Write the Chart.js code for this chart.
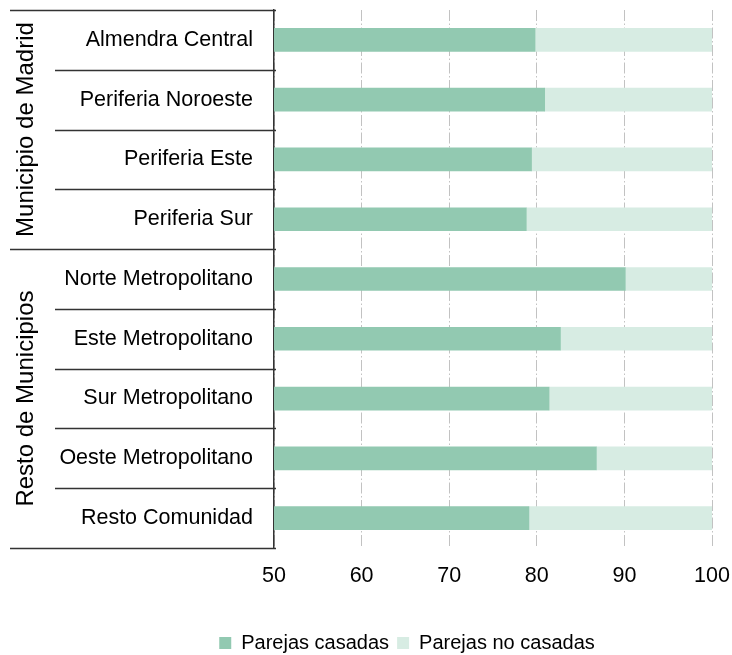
<!DOCTYPE html>
<html>
<head>
<meta charset="utf-8">
<script src="https://cdn.jsdelivr.net/npm/chart.js@4/dist/chart.umd.min.js"></script>
<style>
  html, body { margin: 0; padding: 0; background: #ffffff; }
  #wrap { position: relative; width: 732px; height: 655px; }
</style>
</head>
<body>
<div id="wrap"><canvas id="c" width="732" height="655"></canvas></div>
<script>
// ---- Data ----
const categories = [
  'Almendra Central', 'Periferia Noroeste', 'Periferia Este', 'Periferia Sur',
  'Norte Metropolitano', 'Este Metropolitano', 'Sur Metropolitano',
  'Oeste Metropolitano', 'Resto Comunidad'
];
const groupLabels = ['Municipio de Madrid', 'Resto de Municipios'];
const groupSizes = [4, 5];
const parejasCasadas   = [79.8, 80.9, 79.4, 78.8, 90.1, 82.7, 81.4, 86.8, 79.1];
const parejasNoCasadas = [20.2, 19.1, 20.6, 21.2,  9.9, 17.3, 18.6, 13.2, 20.9];
const seriesNames = ['Parejas casadas', 'Parejas no casadas'];
const xTicks = [50, 60, 70, 80, 90, 100];

const FONT = "'Liberation Sans', Arial, sans-serif";
const LINE = '#333333';

// Plugin drawing the two-level category table on the left
const groupTable = {
  id: 'groupTable',
  afterLayout(chart) {
    // shift the legend to sit under the chart like in the reference
    if (chart.legend) { chart.legend.left += 51; chart.legend.right += 51; }
  },
  afterDraw(chart) {
    const { ctx, chartArea } = chart;
    const n = categories.length;
    const top = chartArea.top, bottom = chartArea.bottom;
    const step = (bottom - top) / n;
    const axisX = chartArea.left;
    const outerX = 10, innerX = 55;
    ctx.save();
    ctx.strokeStyle = LINE;
    ctx.lineWidth = 1.5;
    const groupEnds = new Set();
    let acc = 0;
    groupSizes.forEach(s => { acc += s; groupEnds.add(acc); });
    for (let i = 0; i <= n; i++) {
      const y = Math.round(top + i * step) + 0.5;
      const startX = (i === 0 || groupEnds.has(i)) ? outerX : innerX;
      ctx.beginPath();
      ctx.moveTo(startX, y);
      ctx.lineTo(axisX + 2, y);
      ctx.stroke();
    }
    ctx.fillStyle = '#000000';
    ctx.font = '24px ' + FONT;
    ctx.textAlign = 'center';
    ctx.textBaseline = 'alphabetic';
    let start = 0;
    groupLabels.forEach((lab, gi) => {
      const yc = top + (start + groupSizes[gi] / 2) * step;
      ctx.save();
      ctx.translate(33, yc);
      ctx.rotate(-Math.PI / 2);
      ctx.fillText(lab, 0, 0);
      ctx.restore();
      start += groupSizes[gi];
    });
    ctx.restore();
  }
};

new Chart(document.getElementById('c'), {
  type: 'bar',
  data: {
    labels: categories,
    datasets: [
      { label: seriesNames[0], data: parejasCasadas, backgroundColor: '#92c9b1', borderWidth: 0, barThickness: 23 },
      { label: seriesNames[1], data: parejasNoCasadas, backgroundColor: '#d7ece3', borderWidth: 0, barThickness: 23 }
    ]
  },
  options: {
    indexAxis: 'y',
    responsive: false,
    animation: false,
    devicePixelRatio: 1,
    layout: { padding: { top: 10, right: 20, left: 0, bottom: -8 } },
    scales: {
      x: {
        stacked: true,
        min: xTicks[0],
        max: xTicks[xTicks.length - 1],
        afterBuildTicks(scale) { scale.ticks = xTicks.map(v => ({ value: v })); },
        afterFit(scale) { scale.height = 77; scale.paddingLeft = 0; scale.paddingRight = 0; },
        grid: {
          color: '#c2c2c2',
          lineWidth: 1,
          drawTicks: false
        },
        border: { display: false, dash: [11, 2.5, 1.5, 2.5] },
        ticks: { color: '#000000', font: { family: FONT, size: 21.5 }, padding: 15 }
      },
      y: {
        stacked: true,
        afterFit(scale) { scale.width = 274; scale.paddingTop = 0; scale.paddingBottom = 0; },
        grid: { display: false, drawTicks: false },
        border: { display: true, color: LINE, width: 1.5 },
        ticks: { color: '#000000', font: { family: FONT, size: 21.5 }, padding: 21, autoSkip: false }
      }
    },
    plugins: {
      legend: {
        position: 'bottom',
        labels: {
          color: '#000000',
          font: { family: FONT, size: 20 },
          boxWidth: 12,
          boxHeight: 12,
          padding: 8
        }
      },
      tooltip: { enabled: false }
    }
  },
  plugins: [groupTable]
});
</script>
</body>
</html>
